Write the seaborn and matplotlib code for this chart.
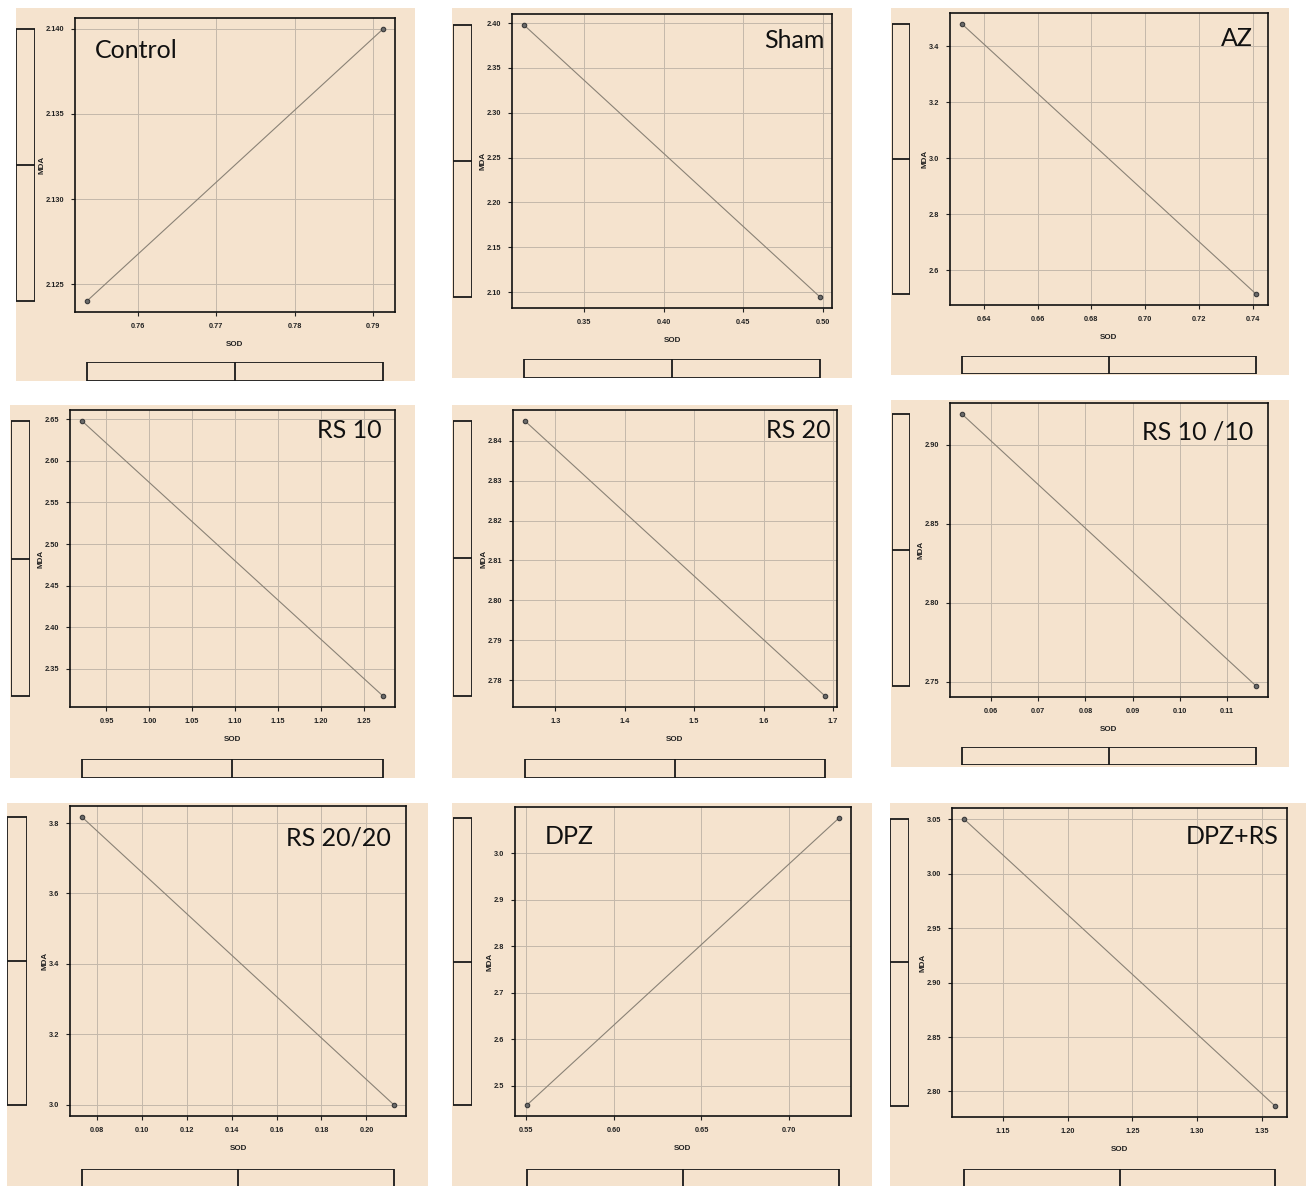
import numpy as np
import pandas as pd
import matplotlib.pyplot as plt
import seaborn as sns
from matplotlib.patches import Rectangle
from matplotlib.ticker import FormatStrFormatter

# group names and the two SOD / MDA points of each group
groups = ['Control', 'Sham', 'AZ', 'RS 10', 'RS 20', 'RS 10 /10', 'RS 20/20', 'DPZ', 'DPZ+RS']
sod = [[0.7535, 0.7913], [0.3122, 0.4984], [0.6318, 0.7413],
       [0.9215, 1.2727], [1.2563, 1.6885], [0.0538, 0.1162],
       [0.0736, 0.2121], [0.551, 0.728], [1.120, 1.360]]
mda = [[2.124, 2.140], [2.398, 2.0944], [3.481, 2.514],
       [2.648, 2.3173], [2.8449, 2.7761], [2.9197, 2.7473],
       [3.816, 3.000], [2.460, 3.0745], [3.050, 2.787]]

x_ticks = [[0.76, 0.77, 0.78, 0.79], [0.35, 0.40, 0.45, 0.50],
           [0.64, 0.66, 0.68, 0.70, 0.72, 0.74],
           [0.95, 1.00, 1.05, 1.10, 1.15, 1.20, 1.25], [1.3, 1.4, 1.5, 1.6, 1.7],
           [0.06, 0.07, 0.08, 0.09, 0.10, 0.11],
           [0.08, 0.10, 0.12, 0.14, 0.16, 0.18, 0.20], [0.55, 0.60, 0.65, 0.70],
           [1.15, 1.20, 1.25, 1.30, 1.35]]
y_ticks = [[2.125, 2.130, 2.135, 2.140], [2.10, 2.15, 2.20, 2.25, 2.30, 2.35, 2.40],
           [2.6, 2.8, 3.0, 3.2, 3.4], [2.35, 2.40, 2.45, 2.50, 2.55, 2.60, 2.65],
           [2.78, 2.79, 2.80, 2.81, 2.82, 2.83, 2.84], [2.75, 2.80, 2.85, 2.90],
           [3.0, 3.2, 3.4, 3.6, 3.8], [2.5, 2.6, 2.7, 2.8, 2.9, 3.0],
           [2.80, 2.85, 2.90, 2.95, 3.00, 3.05]]
x_fmt = ['%.2f', '%.2f', '%.2f', '%.2f', '%.1f', '%.2f', '%.2f', '%.2f', '%.2f']
y_fmt = ['%.3f', '%.2f', '%.1f', '%.2f', '%.2f', '%.2f', '%.1f', '%.1f', '%.2f']

# layout in pixels (x0, y0, x1, y1), origin top-left
W, H = 1306, 1186
bg_px = [(16, 8, 415, 381), (452, 8, 852, 378), (891, 8, 1289, 375),
         (10, 405, 415, 778), (452, 405, 852, 778), (891, 400, 1289, 767),
         (7, 803, 428, 1186), (452, 803, 872, 1186), (890, 803, 1306, 1186)]
plot_px = [(75, 18, 395, 312), (512, 14, 832, 308), (950, 13, 1268, 305),
           (70, 410, 395, 707), (513, 410, 837, 707), (950, 403, 1268, 697),
           (70, 806, 406, 1116), (515, 807, 851, 1116), (952, 808, 1287, 1117)]
lbox_x = [(16, 35), (453, 472), (892, 910), (11, 30), (453, 472), (892, 910),
          (7, 27), (453, 472), (890, 909)]
bbox_y = [(362, 381), (359, 378), (356, 374), (759, 778), (759, 778), (747, 765),
          (1169, 1200), (1169, 1200), (1169, 1200)]
title_px = [(95, 50, 'left'), (825, 40, 'right'), (1253, 38, 'right'),
            (382, 430, 'right'), (831, 430, 'right'), (1253, 432, 'right'),
            (391, 838, 'right'), (545, 837, 'left'), (1279, 836, 'right')]

bg = '#F5E3CE'
grid_c = '#C4B8AA'
line_c = '#8A8276'


def frac(x0, y0, x1, y1):
    return [x0 / W, 1 - y1 / H, (x1 - x0) / W, (y1 - y0) / H]


def box_stats(v):
    v = np.asarray(v)
    return dict(med=np.median(v), q1=v.min(), q3=v.max(),
                whislo=v.min(), whishi=v.max(), fliers=[])


sns.set_style('ticks')
plt.rcParams['font.family'] = ['Liberation Sans', 'DejaVu Sans']

fig = plt.figure(figsize=(W / 100, H / 100), dpi=100)
fig.patch.set_facecolor('white')

for i, g in enumerate(groups):
    x0, y0, x1, y1 = bg_px[i]
    fig.add_artist(Rectangle((x0 / W, 1 - y1 / H), (x1 - x0) / W, (y1 - y0) / H,
                             transform=fig.transFigure, facecolor=bg,
                             edgecolor='none', zorder=0))

    px = plot_px[i]
    ax = fig.add_axes(frac(*px))
    ax.set_facecolor(bg)
    df = pd.DataFrame({'SOD': sod[i], 'MDA': mda[i]})
    sns.lineplot(data=df, x='SOD', y='MDA', ax=ax, color=line_c, linewidth=0.8,
                 marker='o', markersize=3.2, markeredgecolor='#3a3a3a',
                 markerfacecolor='#6a6a6a', markeredgewidth=0.8)

    xs, ys = np.array(sod[i]), np.array(mda[i])
    xr, yr = xs.max() - xs.min(), ys.max() - ys.min()
    ax.set_xlim(xs.min() - 0.04 * xr, xs.max() + 0.04 * xr)
    ax.set_ylim(ys.min() - 0.04 * yr, ys.max() + 0.04 * yr)
    ax.set_xticks(x_ticks[i])
    ax.set_yticks(y_ticks[i])
    ax.xaxis.set_major_formatter(FormatStrFormatter(x_fmt[i]))
    ax.yaxis.set_major_formatter(FormatStrFormatter(y_fmt[i]))
    ax.grid(True, color=grid_c, linewidth=0.7)
    ax.set_axisbelow(True)
    for s in ax.spines.values():
        s.set_visible(True)
        s.set_color('#111111')
        s.set_linewidth(1.2)
    ax.tick_params(direction='out', length=3, width=0.8, color='#222222',
                   labelsize=5.3, pad=5)
    for t in ax.get_xticklabels() + ax.get_yticklabels():
        t.set_fontweight('bold')
        t.set_color('#222222')
    ax.set_xlabel('SOD', fontsize=5.8, fontweight='bold', color='#222222', labelpad=8)
    ax.set_ylabel('MDA', fontsize=5.8, fontweight='bold', color='#222222', labelpad=0)

    # marginal box on the left (MDA)
    lx0, lx1 = lbox_x[i]
    axl = fig.add_axes(frac(lx0, px[1], lx1, px[3]), sharey=ax)
    axl.bxp([box_stats(mda[i])], positions=[0], widths=1, showfliers=False,
            showcaps=False, patch_artist=True,
            boxprops=dict(facecolor=bg, edgecolor='#1a1a1a', linewidth=1.3),
            medianprops=dict(color='#1a1a1a', linewidth=1.3),
            whiskerprops=dict(linewidth=0))
    axl.set_xlim(-0.5, 0.5)
    axl.set_ylim(ax.get_ylim())
    axl.axis('off')

    # marginal box at the bottom (SOD)
    by0, by1 = bbox_y[i]
    axb = fig.add_axes(frac(px[0], by0, px[2], by1), sharex=ax)
    axb.bxp([box_stats(sod[i])], positions=[0], widths=1, showfliers=False,
            showcaps=False, patch_artist=True, orientation='horizontal',
            boxprops=dict(facecolor=bg, edgecolor='#1a1a1a', linewidth=1.3),
            medianprops=dict(color='#1a1a1a', linewidth=1.3),
            whiskerprops=dict(linewidth=0))
    axb.set_ylim(-0.5, 0.5)
    axb.set_xlim(ax.get_xlim())
    axb.axis('off')

    tx, ty, ha = title_px[i]
    fig.text(tx / W, 1 - ty / H, g, ha=ha, va='center', fontsize=18,
             family=['Lato', 'DejaVu Sans'], color='#111111')

fig.savefig('out.png', dpi=100, facecolor='white')
